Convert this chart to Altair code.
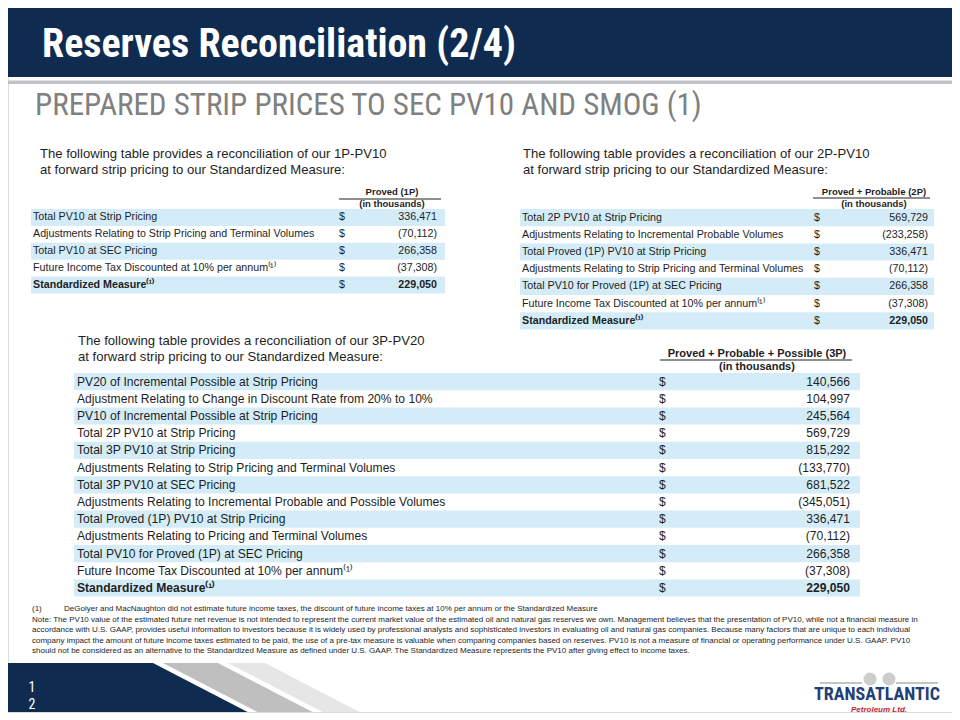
import altair as alt
import pandas as pd

# ---------------- data ----------------
title = "Reserves Reconciliation (2/4)"
subtitle = "PREPARED STRIP PRICES TO SEC PV10 AND SMOG (1)"

intro1 = ["The following  table provides  a reconciliation of our 1P-PV10",
          "at forward  strip pricing to our Standardized Measure:"]
intro2 = ["The following  table provides  a reconciliation of our 2P-PV10",
          "at forward  strip pricing to our Standardized Measure:"]
intro3 = ["The following  table provides  a reconciliation of our 3P-PV20",
          "at forward  strip pricing to our Standardized Measure:"]

head1 = ["Proved (1P)", "(in thousands)"]
head2 = ["Proved + Probable (2P)", "(in thousands)"]
head3 = ["Proved + Probable + Possible (3P)", "(in thousands)"]

t1_labels = ["Total PV10 at Strip Pricing",
             "Adjustments Relating to Strip Pricing and Terminal Volumes",
             "Total PV10 at SEC  Pricing",
             "Future Income Tax Discounted at 10% per annum⁽¹⁾",
             "Standardized Measure⁽¹⁾"]
t1_values = [336471, -70112, 266358, -37308, 229050]

t2_labels = ["Total 2P PV10 at Strip Pricing",
             "Adjustments Relating to Incremental Probable Volumes",
             "Total Proved (1P) PV10 at Strip Pricing",
             "Adjustments Relating to Strip Pricing and Terminal Volumes",
             "Total PV10 for Proved (1P) at SEC  Pricing",
             "Future Income Tax Discounted at 10% per annum⁽¹⁾",
             "Standardized Measure⁽¹⁾"]
t2_values = [569729, -233258, 336471, -70112, 266358, -37308, 229050]

t3_labels = ["PV20 of Incremental Possible at Strip Pricing",
             "Adjustment Relating to Change in Discount Rate from 20% to 10%",
             "PV10 of Incremental Possible at Strip Pricing",
             "Total 2P PV10 at Strip Pricing",
             "Total 3P PV10 at Strip Pricing",
             "Adjustments Relating to Strip Pricing and Terminal Volumes",
             "Total 3P PV10 at SEC Pricing",
             "Adjustments Relating to Incremental Probable and Possible Volumes",
             "Total Proved (1P) PV10 at Strip Pricing",
             "Adjustments Relating to Pricing and Terminal Volumes",
             "Total PV10 for Proved (1P) at SEC Pricing",
             "Future Income Tax Discounted at 10% per annum⁽¹⁾",
             "Standardized Measure⁽¹⁾"]
t3_values = [140566, 104997, 245564, 569729, 815292, -133770, 681522,
             -345051, 336471, -70112, 266358, -37308, 229050]

footnotes = [
    "Note: The PV10 value of the estimated future net revenue is not intended to represent the current market value of the estimated oil and natural gas reserves we own. Management believes that the presentation of PV10, while not a financial measure in",
    "accordance with U.S. GAAP, provides useful information to investors because it is widely used by professional analysts and sophisticated investors in evaluating oil and natural gas companies. Because many factors that are unique to each individual",
    "company impact the amount of future income taxes estimated to be paid, the use of a pre-tax measure is valuable when comparing companies based on reserves. PV10 is not a measure of financial or operating performance under U.S. GAAP. PV10",
    "should not be considered as an alternative to the Standardized Measure as defined under U.S. GAAP. The Standardized Measure represents the PV10 after giving effect to income taxes.",
]
footnote1_mark = "(1)"
footnote1 = "DeGolyer and MacNaughton did not estimate future income taxes, the discount of future income taxes at 10% per annum or the Standardized Measure"
page_no = ["1", "2"]
logo_name = "TRANSATLANTIC"
logo_sub = "Petroleum Ltd."

# ---------------- layout ----------------
W, H, OFF = 944, 704, 8
NAVY = "#0f2c50"
BAND = "#d3ecf8"
INK = "#1e1e1e"
SANS = '"Liberation Sans", Arial, sans-serif'
NARROW = '"Liberation Sans Narrow", "Roboto Condensed", "DejaVu Sans Condensed", sans-serif'

xs = alt.Scale(domain=[OFF, OFF + W], range=[0, W], nice=False, zero=False)
ys = alt.Scale(domain=[OFF, OFF + H], range=[0, H], nice=False, zero=False)


def X(f):
    return alt.X(f, type="quantitative", scale=xs, axis=None)


def Y(f):
    return alt.Y(f, type="quantitative", scale=ys, axis=None)


def fmt(v):
    s = f"{abs(v):,}"
    return f"({s})" if v < 0 else s


def texts(xs_, ys_, ts, **mk):
    df = pd.DataFrame({"x": xs_, "y": ys_, "t": ts})
    mk.setdefault("font", SANS)
    mk.setdefault("baseline", "middle")
    return alt.Chart(df).mark_text(**mk).encode(x=X("x"), y=Y("y"), text="t:N")


def rects(x0, x1, y0, y1, color, clip=False):
    df = pd.DataFrame({"x0": x0, "x1": x1, "y0": y0, "y1": y1})
    return alt.Chart(df).mark_rect(color=color, clip=clip).encode(
        x=X("x0"), x2=alt.X2("x1"), y=Y("y0"), y2=alt.Y2("y1"))


def rule(x0, x1, y, color, width):
    df = pd.DataFrame({"x0": [x0], "x1": [x1], "y": [y]})
    return alt.Chart(df).mark_rule(color=color, strokeWidth=width).encode(
        x=X("x0"), x2=alt.X2("x1"), y=Y("y"))


def poly(ytop, ybot, xl_top, xr_top, shift, color):
    df = pd.DataFrame({"y": [ytop, ybot], "xa": [xl_top, xl_top + shift if xl_top > 0 else 0],
                       "xb": [xr_top, xr_top + shift]})
    return alt.Chart(df).mark_area(orient="horizontal", color=color, clip=True).encode(
        y=Y("y"), x=X("xa"), x2=alt.X2("xb"))


def table(labels, values, top, rowh, x0, x1, xlab, xdol, xval, fs, bold_fs):
    n = len(labels)
    layers = []
    even = [i for i in range(n) if i % 2 == 0]
    layers.append(rects([x0] * len(even), [x1] * len(even),
                        [top + rowh * i for i in even],
                        [top + rowh * (i + 1) for i in even], BAND))
    yc = [top + rowh * (i + 0.5) for i in range(n)]
    vals = [fmt(v) for v in values]
    layers.append(texts([xlab] * (n - 1), yc[:-1], labels[:-1], align="left",
                        fontSize=fs, color=INK))
    layers.append(texts([xlab], yc[-1:], labels[-1:], align="left",
                        fontSize=bold_fs, fontWeight="bold", color=INK))
    layers.append(texts([xdol] * n, yc, ["$"] * n, align="left", fontSize=fs, color=INK))
    layers.append(texts([xval] * (n - 1), yc[:-1], vals[:-1], align="right",
                        fontSize=fs, color=INK))
    layers.append(texts([xval], yc[-1:], vals[-1:], align="right",
                        fontSize=bold_fs, fontWeight="bold", color=INK))
    return layers


def header(lines, xc, y1, y2, uline, ux0, ux1, fs):
    return [texts([xc], [y1], lines[:1], align="center", fontSize=fs,
                  fontWeight="bold", color=INK),
            rule(ux0, ux1, uline, INK, 1),
            texts([xc], [y2], lines[1:], align="center", fontSize=fs,
                  fontWeight="bold", color=INK)]


layers = []
# header band
layers.append(rects([0], [960], [0], [77], NAVY, clip=True))
layers.append(rects([0], [960], [80.5], [84], "#bfc3c6", clip=True))
layers.append(texts([42], [45], [title], align="left", font=NARROW, fontSize=40,
                    fontWeight="bold", color="white"))
layers.append(texts([35], [106], [subtitle], align="left", font=NARROW, fontSize=31,
                    color="#808080"))

# intro texts
layers.append(texts([40, 40], [154, 170], intro1, align="left", fontSize=13.1, color=INK))
layers.append(texts([523, 523], [154, 170], intro2, align="left", fontSize=13.1, color=INK))
layers.append(texts([78, 78], [341, 357], intro3, align="left", fontSize=13.1, color=INK))

# table headers
layers += header(head1, 392, 192, 204, 199, 339, 441, 9.5)
layers += header(head2, 874, 192, 204, 198, 813, 930, 9.5)
layers += header(head3, 757, 354, 367, 360, 660, 852, 11)

# tables
layers += table(t1_labels, t1_values, 209, 16.9, 31, 445, 33, 339, 437, 10.7, 10.7)
layers += table(t2_labels, t2_values, 209, 17.2, 520, 934, 522, 814, 928, 10.7, 10.7)
layers += table(t3_labels, t3_values, 373, 17.2, 74, 860, 77, 659, 850, 12.1, 12.1)

# footnotes
layers.append(texts([32], [609], [footnote1_mark], align="left", fontSize=8, color=INK))
layers.append(texts([64], [609], [footnote1], align="left", fontSize=8, color=INK))
layers.append(texts([32] * 4, [619.5, 630, 640.5, 651], footnotes, align="left",
                    fontSize=8, color=INK))

# bottom decoration
layers.append(poly(663, 720, 0, 153, 110, NAVY))
layers.append(poly(663, 720, 163, 218, 110, "#bfbfbf"))
layers.append(poly(663, 720, 228, 265, 110, "#e6e6e6"))
layers.append(texts([32, 32], [688, 705], page_no, align="center", font=NARROW,
                    fontSize=14, color="white"))

# logo
layers.append(rule(820, 862, 683, "#c4c4c4", 2))
layers.append(rule(896, 938, 683, "#c4c4c4", 2))
circ = pd.DataFrame({"x": [870, 889], "y": [679, 679]})
layers.append(alt.Chart(circ).mark_point(filled=True, color="#c8c8c8", size=170, opacity=0.9)
              .encode(x=X("x"), y=Y("y")))
layers.append(texts([877], [695], [logo_name], align="center", font=NARROW, fontSize=18,
                    fontWeight="bold", color="#1f4079"))
layers.append(texts([879], [710], [logo_sub], align="center", fontSize=8,
                    fontWeight="bold", fontStyle="italic", color="#c0262d"))

chart = alt.layer(*layers).properties(width=W, height=H, padding=0).configure_view(
    stroke=None).configure(background="white")

chart.save("out.html", embed_options={"renderer": "svg", "actions": False})
